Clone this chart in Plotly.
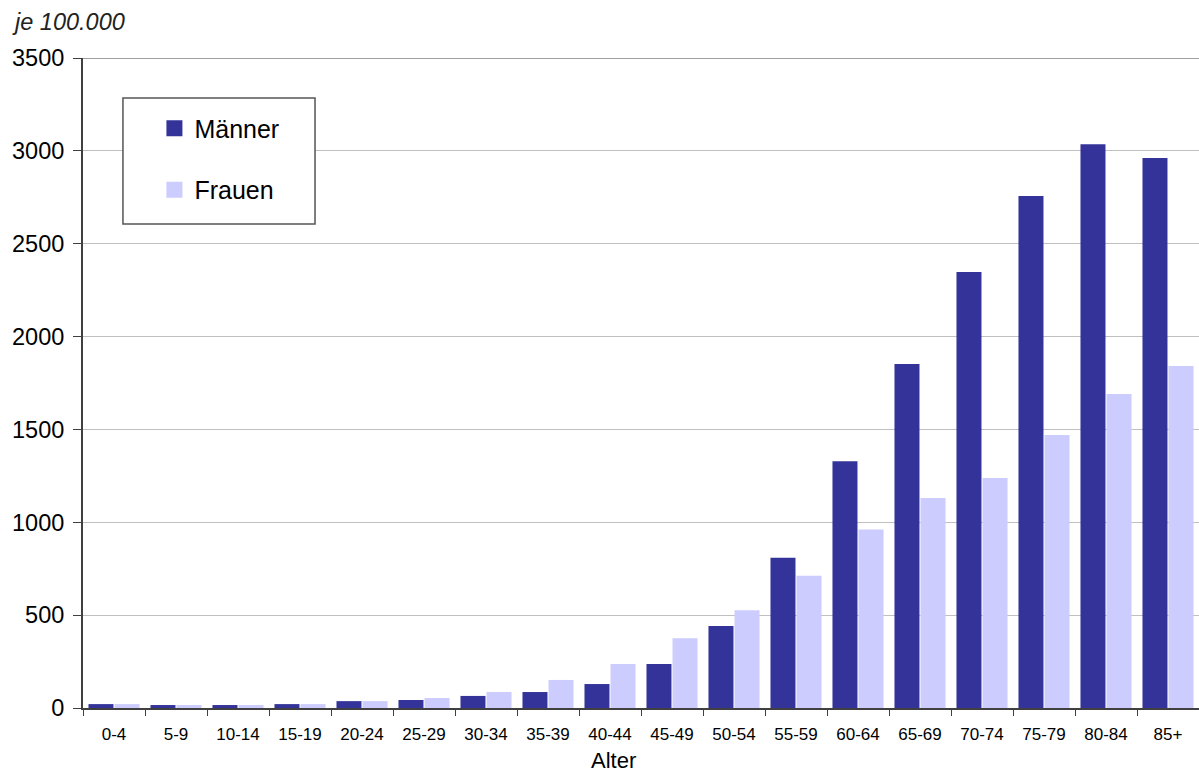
import plotly.graph_objects as go

# Altersgruppen und Raten je 100.000
altersgruppen = ["0-4", "5-9", "10-14", "15-19", "20-24", "25-29", "30-34", "35-39",
                 "40-44", "45-49", "50-54", "55-59", "60-64", "65-69", "70-74",
                 "75-79", "80-84", "85+"]
maenner = [21, 16, 16, 21, 37, 43, 65, 86, 129, 237, 441, 809, 1328, 1852, 2348, 2757, 3035, 2962]
frauen = [21, 16, 16, 21, 37, 54, 86, 151, 237, 376, 527, 712, 961, 1131, 1239, 1470, 1691, 1842]
y_ticks = [0, 500, 1000, 1500, 2000, 2500, 3000, 3500]

farbe_m = "#333399"
farbe_f = "#ccccff"
schrift = "Liberation Sans, Arial, sans-serif"

fig = go.Figure()
fig.add_trace(go.Bar(x=altersgruppen, y=maenner, name="Männer",
                     marker=dict(color=farbe_m, line=dict(width=0)), showlegend=False))
fig.add_trace(go.Bar(x=altersgruppen, y=frauen, name="Frauen",
                     marker=dict(color=farbe_f, line=dict(width=0)), showlegend=False))

# Legendeneinträge mit größeren Quadraten
for name, farbe, gruppe in [("Männer", farbe_m, "m"), ("Frauen", farbe_f, "f")]:
    fig.add_trace(go.Scatter(x=[None], y=[None], mode="markers", name=name,
                             legendgroup=gruppe,
                             marker=dict(symbol="square", size=16, color=farbe,
                                         line=dict(width=0))))

fig.update_layout(
    width=1199, height=776,
    margin=dict(l=83, r=0, t=58, b=68),
    paper_bgcolor="white", plot_bgcolor="white",
    font=dict(family=schrift, color="black"),
    barmode="group", bargap=0.16, bargroupgap=0.04,
    legend=dict(x=0.064, y=0.927, xanchor="left", yanchor="top",
                bgcolor="rgba(0,0,0,0)", borderwidth=0,
                font=dict(size=25, family=schrift), tracegroupgap=26,
                itemsizing="trace"),
    xaxis=dict(type="category", showline=True, linecolor="#404040", linewidth=2,
               ticks="outside", tickson="boundaries", ticklen=6, tickcolor="#404040",
               tickfont=dict(size=17), showgrid=False, ticklabelstandoff=10),
    yaxis=dict(range=[0, 3500], tickvals=y_ticks, showline=True, linecolor="#404040",
               linewidth=2, ticks="outside", ticklen=8, tickcolor="#404040",
               tickfont=dict(size=23.5), showgrid=True, gridcolor="#c0c0c0",
               gridwidth=1, zeroline=False, ticklabelstandoff=4),
    shapes=[
        dict(type="line", xref="paper", yref="y", x0=0, x1=1, y0=3500, y1=3500,
             line=dict(color="#808080", width=1.5)),
        dict(type="rect", xref="paper", yref="paper", x0=0.0358, x1=0.2079,
             y0=0.7446, y1=0.9385, fillcolor="white",
             line=dict(color="#555555", width=1.5), layer="above"),
    ],
    annotations=[
        dict(text="<i>je 100.000</i>", xref="paper", yref="paper", x=-0.0655, y=1.0554,
             xanchor="left", yanchor="middle", showarrow=False,
             font=dict(size=23.5, family=schrift, color="#222222")),
        dict(text="Alter", xref="paper", yref="paper", x=0.475, y=-0.0815,
             xanchor="center", yanchor="middle", showarrow=False,
             font=dict(size=22, family=schrift)),
    ],
)

fig.write_html("out.html")
